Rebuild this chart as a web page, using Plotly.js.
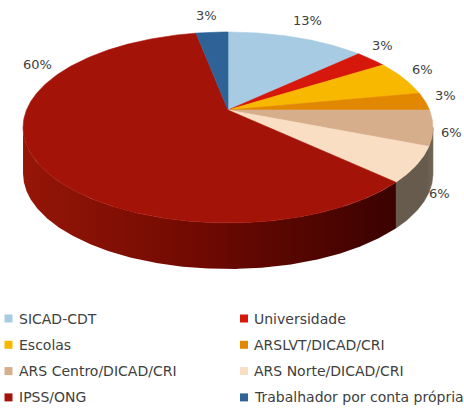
<!DOCTYPE html>
<html>
<head>
<meta charset="utf-8">
<script src="https://cdn.plot.ly/plotly-3.0.1.min.js"></script>
<style>html,body{margin:0;padding:0;background:#ffffff;}</style>
</head>
<body>
<div id="chart" style="width:464px;height:408px"></div>
<script>
// ---------------- DATA ----------------
const categories = ['SICAD-CDT', 'Universidade', 'Escolas', 'ARSLVT/DICAD/CRI',
  'ARS Centro/DICAD/CRI', 'ARS Norte/DICAD/CRI', 'IPSS/ONG', 'Trabalhador por conta própria'];
const percentValues = [13, 3, 6, 3, 6, 6, 60, 3];

// ---------------- STYLE ----------------
const topColors  = ['#a7cbe2', '#d5170c', '#f8b800', '#e28700', '#d6ae8b', '#f9dec3', '#a41308', '#2f6398'];
const wallColors = ['#5d7f91', '#7a0d06', '#8c6900', '#7f4c00', '#6f6252', '#675b4d', null, '#1b3957'];
const wallGradient = [[0, '#951607'], [0.45, '#710a02'], [1, '#3b0200']];
const textColor = '#404040';
const fontFamily = 'DejaVu Sans, Liberation Sans, sans-serif';
const W = 464, H = 408;

// 3D-pie projection (pixel space of the 464x408 canvas)
const G = {cx: 228, cy: 110, A: 92.3, B: 201.5, k: 0.183, depth: 46};
// Excel "best fit" data-label displacement (pixels) from the default radial spot
const labelNudge = [[0, 0], [-4, -3], [3, -1], [4, 0], [3, 8], [8, 29], [19, -93], [-2, 4]];
// legend grid
const LEG = {x0: 8.5, colW: 235.5, y0: 318.5, rowH: 26.3, textGap: 8};

// ---------------- GEOMETRY ----------------
function proj(theta) {
  const u = Math.sin(theta), v = Math.cos(theta);
  const den = 1 + G.k * v;
  return [G.cx + G.B * u / den, G.cy - G.A * v / den];
}
function arc(t1, t2) {
  const n = Math.max(2, Math.ceil(Math.abs(t2 - t1) / (Math.PI / 360)));
  const pts = [];
  for (let i = 0; i <= n; i++) pts.push(proj(t1 + (t2 - t1) * i / n));
  return pts;
}
const total = percentValues.reduce((a, b) => a + b, 0);
const bounds = [];
let acc = 0;
percentValues.forEach(v => { const s = acc; acc += v; bounds.push([2 * Math.PI * s / total, 2 * Math.PI * acc / total]); });

const thR = Math.acos(-G.k);          // right silhouette angle
const thL = 2 * Math.PI - thR;        // left silhouette angle

const traces = [];
// walls (drawn first)
bounds.forEach(([t1, t2], i) => {
  const a = Math.max(t1, thR), b = Math.min(t2, thL);
  if (a >= b) return;
  const top = arc(a, b);
  const bottom = top.slice().reverse().map(p => [p[0], p[1] + G.depth]);
  const pts = top.concat(bottom);
  pts.push(top[0]);
  const tr = {
    type: 'scatter', mode: 'lines', x: pts.map(p => p[0]), y: pts.map(p => p[1]),
    fill: 'toself', hoverinfo: 'skip', showlegend: false,
    line: {width: 0, color: 'rgba(0,0,0,0)'}
  };
  if (wallColors[i]) { tr.fillcolor = wallColors[i]; tr.line = {width: 0.6, color: wallColors[i]}; }
  else { tr.fillgradient = {type: 'horizontal', colorscale: wallGradient}; }
  traces.push(tr);
});
// top faces
bounds.forEach(([t1, t2], i) => {
  const pts = [[G.cx, G.cy]].concat(arc(t1, t2));
  pts.push([G.cx, G.cy]);
  traces.push({
    type: 'scatter', mode: 'lines', x: pts.map(p => p[0]), y: pts.map(p => p[1]),
    fill: 'toself', fillcolor: topColors[i], hoverinfo: 'skip', showlegend: false,
    line: {width: 0.6, color: topColors[i]}, name: categories[i]
  });
});
// legend markers
traces.push({
  type: 'scatter', mode: 'markers', cliponaxis: false,
  x: categories.map((c, i) => LEG.x0 + (i % 2) * LEG.colW),
  y: categories.map((c, i) => LEG.y0 + Math.floor(i / 2) * LEG.rowH),
  marker: {symbol: 'square', size: 8, color: topColors, line: {width: 0}},
  hoverinfo: 'skip', showlegend: false
});

const annotations = [];
// percent labels
bounds.forEach(([t1, t2], i) => {
  const p = proj((t1 + t2) / 2);
  const dx = p[0] - G.cx, dy = p[1] - G.cy, L = Math.hypot(dx, dy);
  const px = p[0] + dx / L * 16 + labelNudge[i][0];
  const py = p[1] + dy / L * 16 - 5 + labelNudge[i][1];
  annotations.push({
    x: px / W, y: 1 - py / H,
    xref: 'paper', yref: 'paper', showarrow: false, xanchor: 'center', yanchor: 'middle',
    text: percentValues[i] + '%', font: {family: fontFamily, size: 13, color: textColor}
  });
});
// legend texts
categories.forEach((c, i) => {
  const px = LEG.x0 + (i % 2) * LEG.colW + LEG.textGap;
  const py = LEG.y0 + Math.floor(i / 2) * LEG.rowH;
  annotations.push({
    x: px / W, y: 1 - py / H,
    xref: 'paper', yref: 'paper', showarrow: false, xanchor: 'left', yanchor: 'middle',
    text: c, font: {family: fontFamily, size: 14, color: textColor}
  });
});

const layout = {
  width: W, height: H, autosize: false,
  margin: {l: 0, r: 0, t: 0, b: 0, pad: 0},
  paper_bgcolor: '#ffffff', plot_bgcolor: '#ffffff',
  showlegend: false,
  xaxis: {range: [0, W], visible: false, fixedrange: true},
  yaxis: {range: [H, 0], visible: false, fixedrange: true},
  annotations: annotations,
  font: {family: fontFamily, color: textColor}
};
Plotly.newPlot('chart', traces, layout, {displayModeBar: false, staticPlot: true});
</script>
</body>
</html>
